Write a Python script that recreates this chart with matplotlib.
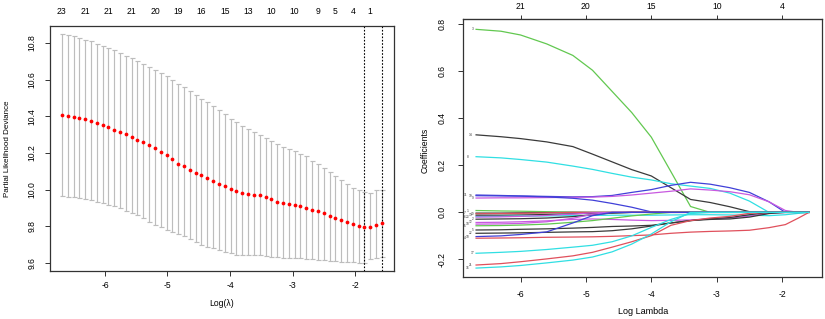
import matplotlib
matplotlib.use("Agg")
import matplotlib.pyplot as plt

plt.rcParams["font.family"] = ["Liberation Sans", "DejaVu Sans"]
plt.rcParams["axes.unicode_minus"] = False

# ── cross-validation curve (left panel) ────────────────────────────────
log_lambda = [-6.690, -6.597, -6.504, -6.411, -6.318, -6.224, -6.131, -6.038,
              -5.945, -5.852, -5.759, -5.666, -5.573, -5.480, -5.387, -5.293,
              -5.200, -5.107, -5.014, -4.921, -4.828, -4.735, -4.642, -4.549,
              -4.456, -4.362, -4.269, -4.176, -4.083, -3.990, -3.897, -3.804,
              -3.711, -3.618, -3.525, -3.431, -3.338, -3.245, -3.152, -3.059,
              -2.966, -2.873, -2.780, -2.687, -2.594, -2.500, -2.407, -2.314,
              -2.221, -2.128, -2.035, -1.942, -1.849, -1.756, -1.663, -1.570]
cvm = [10.407, 10.402, 10.396, 10.391, 10.384, 10.375, 10.364, 10.352,
       10.340, 10.328, 10.315, 10.301, 10.287, 10.273, 10.258, 10.242,
       10.225, 10.206, 10.189, 10.166, 10.142, 10.127, 10.109, 10.093,
       10.078, 10.063, 10.047, 10.033, 10.018, 10.005, 9.992, 9.981,
       9.976, 9.973, 9.969, 9.960, 9.947, 9.935, 9.925, 9.920,
       9.914, 9.909, 9.900, 9.891, 9.882, 9.871, 9.856, 9.845,
       9.833, 9.822, 9.811, 9.800, 9.795, 9.798, 9.809, 9.818]
cvup = [10.851, 10.845, 10.836, 10.827, 10.818, 10.809, 10.796, 10.785,
        10.773, 10.762, 10.747, 10.732, 10.718, 10.704, 10.686, 10.671,
        10.654, 10.636, 10.618, 10.600, 10.578, 10.558, 10.536, 10.514,
        10.496, 10.476, 10.456, 10.436, 10.412, 10.385, 10.369, 10.350,
        10.332, 10.314, 10.298, 10.283, 10.266, 10.248, 10.232, 10.220,
        10.210, 10.192, 10.181, 10.156, 10.142, 10.118, 10.096, 10.072,
        10.054, 10.029, 10.011, 9.996, 9.987, 9.984, 9.996, 9.998]
cvlo = [9.965, 9.962, 9.958, 9.955, 9.949, 9.941, 9.933, 9.925,
        9.917, 9.909, 9.898, 9.886, 9.873, 9.860, 9.845, 9.826,
        9.808, 9.795, 9.781, 9.768, 9.759, 9.745, 9.728, 9.714,
        9.700, 9.688, 9.681, 9.672, 9.660, 9.652, 9.646, 9.643,
        9.642, 9.644, 9.646, 9.640, 9.634, 9.630, 9.628, 9.627,
        9.626, 9.625, 9.624, 9.621, 9.618, 9.616, 9.613, 9.610,
        9.607, 9.605, 9.603, 9.602, 9.600, 9.620, 9.629, 9.633]
idx_min, idx_1se = 52, 55
nz_idx = [0, 4, 8, 12, 16, 20, 24, 28, 32, 36, 40, 44, 47, 50, 53]
nz_lab = ["23", "21", "21", "21", "20", "19", "16", "15", "13", "10", "10",
          "9", "5", "4", "1"]

# ── coefficient paths (right panel) ────────────────────────────────────
path_x = [-6.68, -6.3, -6.0, -5.6, -5.2, -4.9, -4.6, -4.3, -4.0,
          -3.7, -3.4, -3.1, -2.8, -2.5, -2.2, -1.95, -1.75, -1.59]
coef_paths = [
    # (label, colour, values)
    ("3",  "green",   [.779, .771, .755, .717, .668, .605, .515, .425, .320, .173, .025, 0, 0, 0, 0, 0, 0, 0]),
    ("14", "black",   [.330, .322, .314, .300, .280, .248, .215, .182, .155, .105, .055, .042, .024, .003, 0, 0, 0, 0]),
    ("8",  "cyan",    [.237, .232, .225, .214, .197, .183, .166, .150, .138, .122, .112, .102, .082, .048, 0, 0, 0, 0]),
    ("11", "blue",    [.074, .072, .070, .068, .066, .067, .072, .085, .097, .115, .128, .120, .105, .085, .045, 0, 0, 0]),
    ("9",  "magenta", [.061, .062, .062, .063, .064, .065, .068, .074, .082, .090, .100, .095, .088, .075, .045, .008, 0, 0]),
    ("19", "blue",    [.071, .070, .069, .066, .060, .052, .038, .022, .002, 0, 0, 0, 0, 0, 0, 0, 0, 0]),
    ("1",  "green",   [.008, .006, .005, .003, .001, 0, 0, 0, 0, 0, 0, 0, 0, 0, 0, 0, 0, 0]),
    ("7",  "black",   [-.003, -.003, -.002, -.001, 0, 0, 0, 0, 0, 0, 0, 0, 0, 0, 0, 0, 0, 0]),
    ("20", "red",     [-.006, -.005, -.004, -.002, 0, 0, 0, 0, 0, 0, 0, 0, 0, 0, 0, 0, 0, 0]),
    ("13", "black",   [-.012, -.012, -.011, -.009, -.006, -.004, -.002, 0, 0, 0, 0, 0, 0, 0, 0, 0, 0, 0]),
    ("23", "cyan",    [-.018, -.017, -.016, -.015, -.014, -.013, -.012, -.012, -.012, -.011, -.010, -.010, -.011, -.012, -.014, -.010, -.004, 0]),
    ("6",  "magenta", [-.020, -.019, -.017, -.013, -.007, -.002, 0, 0, 0, 0, 0, 0, 0, 0, 0, 0, 0, 0]),
    ("2",  "black",   [-.029, -.028, -.027, -.024, -.018, -.010, -.003, 0, 0, 0, 0, 0, 0, 0, 0, 0, 0, 0]),
    ("12", "magenta", [-.043, -.042, -.040, -.036, -.030, -.028, -.030, -.033, -.035, -.034, -.032, -.028, -.024, -.016, -.003, 0, 0, 0]),
    ("18", "magenta", [-.050, -.049, -.047, -.040, -.025, -.008, 0, 0, 0, 0, 0, 0, 0, 0, 0, 0, 0, 0]),
    ("15", "green",   [-.057, -.056, -.054, -.050, -.042, -.035, -.025, -.015, -.007, 0, 0, 0, 0, 0, 0, 0, 0, 0]),
    ("5",  "black",   [-.075, -.074, -.072, -.070, -.067, -.064, -.060, -.058, -.055, -.045, -.035, -.027, -.022, -.010, 0, 0, 0, 0]),
    ("22", "black",   [-.089, -.088, -.087, -.085, -.083, -.082, -.078, -.070, -.058, -.045, -.035, -.030, -.028, -.020, -.005, 0, 0, 0]),
    ("10", "blue",    [-.103, -.100, -.094, -.083, -.045, -.014, 0, 0, 0, 0, 0, 0, 0, 0, 0, 0, 0, 0]),
    ("4",  "red",     [-.110, -.109, -.108, -.106, -.105, -.104, -.102, -.099, -.096, -.089, -.084, -.081, -.079, -.076, -.065, -.052, -.024, 0]),
    ("17", "cyan",    [-.174, -.170, -.166, -.158, -.148, -.140, -.125, -.100, -.064, -.030, -.005, 0, 0, 0, 0, 0, 0, 0]),
    ("21", "red",     [-.224, -.218, -.210, -.198, -.185, -.170, -.148, -.125, -.099, -.055, -.035, -.024, -.017, -.004, 0, 0, 0, 0]),
    ("16", "cyan",    [-.237, -.232, -.226, -.215, -.203, -.190, -.168, -.135, -.092, -.040, 0, 0, 0, 0, 0, 0, 0, 0]),
]
df_ticks = [-6, -5, -4, -3, -2]
df_labels = ["21", "20", "15", "10", "4"]

PAL = {"black": "#3a3a3a", "red": "#e0505c", "green": "#62c850",
       "blue": "#4040d8", "cyan": "#30dfe3", "magenta": "#c85ae0"}
FS = 6.2
LABEL_OFFSETS = [0.05, 0.09, 0.13, 0.17]

W, H = 825, 319
fig = plt.figure(figsize=(W / 100, H / 100), dpi=100)

def style(ax):
    for s in ax.spines.values():
        s.set_linewidth(0.9)
        s.set_color("#333333")
    ax.tick_params(axis="both", labelsize=FS, length=3.5, width=0.7, color="#333333")
    ax.tick_params(axis="x", pad=4)
    ax.tick_params(axis="y", pad=6)
    for t in ax.get_yticklabels():
        t.set_rotation(90)
        t.set_va("center")

# ── left: CV deviance ──────────────────────────────────────────────────
ax1 = fig.add_axes([50 / W, 1 - 271 / H, 344 / W, 245 / H])
lo_err = [m - l for m, l in zip(cvm, cvlo)]
up_err = [u - m for u, m in zip(cvup, cvm)]
ax1.errorbar(log_lambda, cvm, yerr=[lo_err, up_err], fmt="none",
             ecolor="#bdbdbd", elinewidth=0.85, capsize=1.8, capthick=0.85)
ax1.plot(log_lambda, cvm, "o", color="red", ms=2.7, mec="none", zorder=3)
for i in (idx_min, idx_1se):
    ax1.axvline(log_lambda[i], color="black", lw=0.8, ls=(0, (1.5, 1.5)))
ax1.set_xlim(-6.88, -1.376)
ax1.set_ylim(9.556, 10.893)
ax1.set_xticks([-6, -5, -4, -3, -2])
ax1.set_yticks([9.6, 9.8, 10.0, 10.2, 10.4, 10.6, 10.8])
ax1.set_yticklabels(["9.6", "9.8", "10.0", "10.2", "10.4", "10.6", "10.8"])
style(ax1)
top1 = ax1.secondary_xaxis("top")
top1.set_xticks([log_lambda[i] for i in nz_idx], labels=nz_lab)
top1.tick_params(length=0, labelsize=FS, pad=7)
top1.spines["top"].set_visible(False)
fig.text(222 / W, 1 - 303 / H, "Log(λ)", ha="center", va="center", fontsize=FS)
fig.text(8 / W, 1 - 149 / H, "Partial Likelihood Deviance", ha="center",
         va="center", rotation=90, fontsize=FS - 0.4)

# ── right: coefficient paths ───────────────────────────────────────────
ax2 = fig.add_axes([463 / W, 1 - 277 / H, 359 / W, 258 / H])
for k, (lab, col, vals) in enumerate(coef_paths):
    ax2.plot(path_x, vals, color=PAL[col], lw=0.9)
    ax2.text(path_x[0] - LABEL_OFFSETS[k % 4], vals[0], lab, fontsize=2.3,
             ha="center", va="center", color="#333333")
ax2.set_xlim(-6.88, -1.39)
ax2.set_ylim(-0.275, 0.823)
ax2.set_xticks([-6, -5, -4, -3, -2])
ax2.set_yticks([-0.2, 0.0, 0.2, 0.4, 0.6, 0.8])
ax2.set_yticklabels(["-0.2", "0.0", "0.2", "0.4", "0.6", "0.8"])
style(ax2)
ax2.tick_params(axis="x", pad=6)
ax2.tick_params(axis="y", pad=8)
top2 = ax2.secondary_xaxis("top")
top2.set_xticks(df_ticks, labels=df_labels)
top2.tick_params(length=3, width=0.7, labelsize=FS, pad=3, color="#333333")
fig.text(643 / W, 1 - 312 / H, "Log Lambda", ha="center", va="center", fontsize=FS + 0.3)
fig.text(425 / W, 1 - 150 / H, "Coefficients", ha="center", va="center",
         rotation=90, fontsize=FS)

fig.savefig("out.png", dpi=100)
